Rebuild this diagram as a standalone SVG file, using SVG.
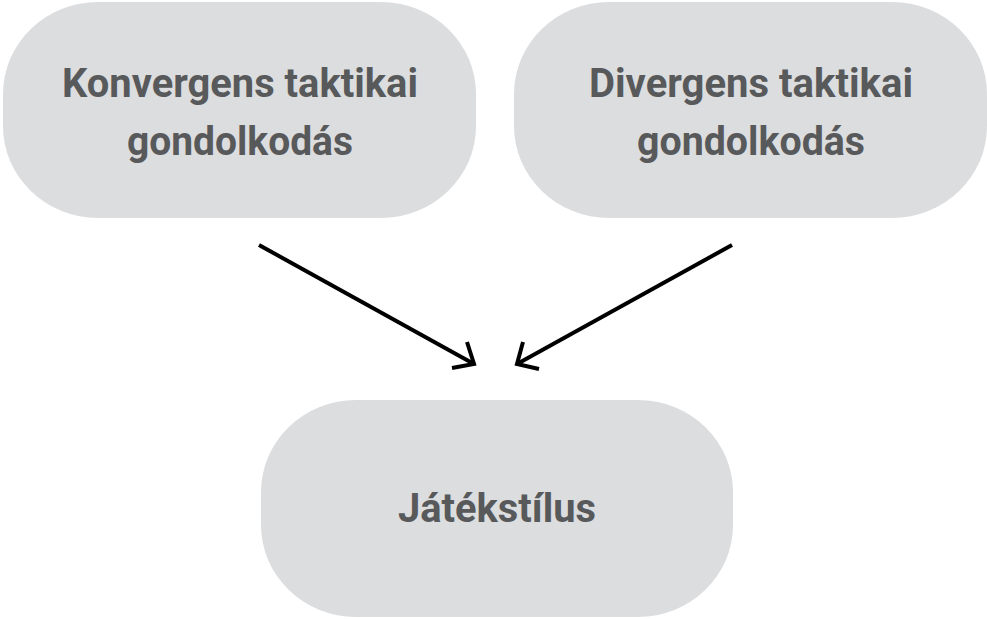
<svg xmlns="http://www.w3.org/2000/svg" width="987" height="619" viewBox="0 0 987 619">
<style>
.box{fill:#dcdddf}
.lbl{font-family:Roboto,"Liberation Sans",sans-serif;font-weight:700;font-size:40px;fill:#58595b;text-anchor:middle}
.conn{stroke:#000;stroke-width:4;fill:none}
</style>
<rect width="987" height="619" fill="#fff"/>
<g id="node-konvergens">
<rect class="box" x="3" y="2" width="473" height="216" rx="95" ry="92"/>
<text class="lbl" x="240" y="97" textLength="356" lengthAdjust="spacingAndGlyphs">Konvergens taktikai</text>
<text class="lbl" x="240" y="155" textLength="226" lengthAdjust="spacingAndGlyphs">gondolkodás</text>
</g>
<g id="node-divergens">
<rect class="box" x="514" y="2" width="473" height="216" rx="95" ry="92"/>
<text class="lbl" x="751" y="97" textLength="324" lengthAdjust="spacingAndGlyphs">Divergens taktikai</text>
<text class="lbl" x="751" y="155" textLength="228" lengthAdjust="spacingAndGlyphs">gondolkodás</text>
</g>
<g id="node-jatekstilus">
<rect class="box" x="261" y="400" width="472" height="217" rx="95" ry="92"/>
<text class="lbl" x="497" y="522" textLength="198" lengthAdjust="spacingAndGlyphs">Játékstílus</text>
</g>
<g id="connectors">
<path class="conn" d="M259 245 L474 364"/>
<path class="conn" d="M467 342 L474 364 L452 368"/>
<path class="conn" d="M732 245 L517 364"/>
<path class="conn" d="M523 342 L517 364 L539 369"/>
</g>
</svg>
